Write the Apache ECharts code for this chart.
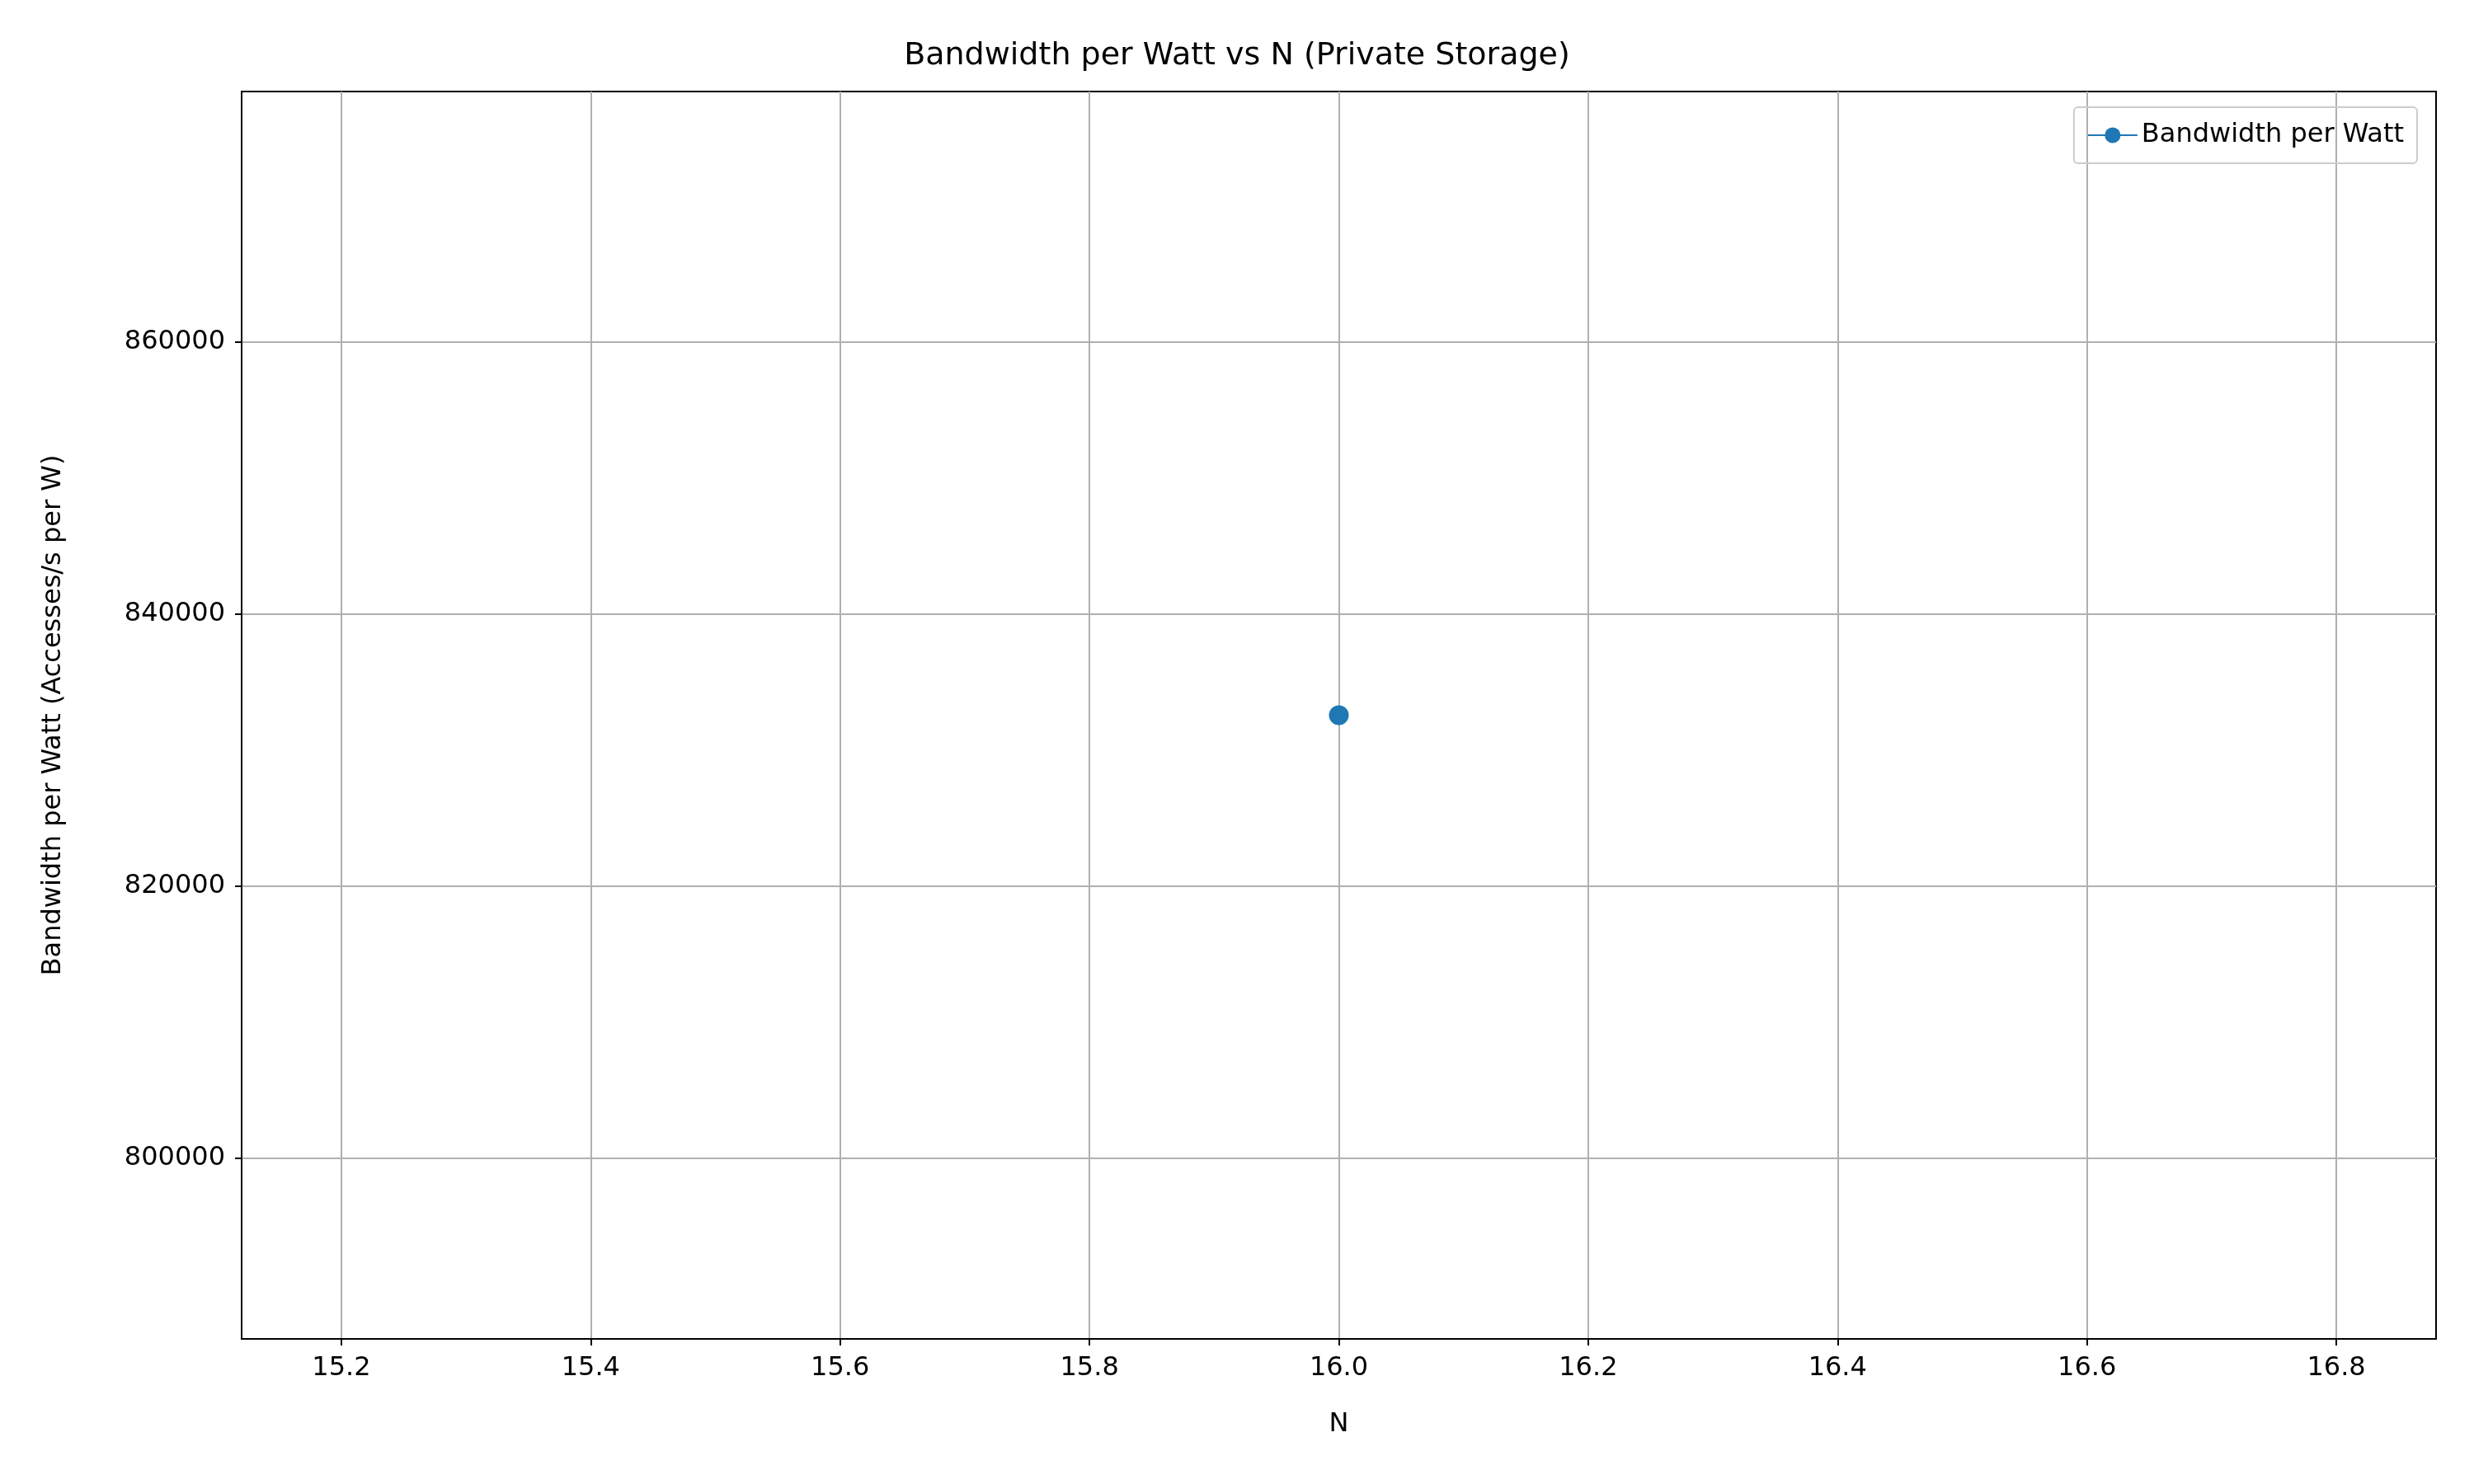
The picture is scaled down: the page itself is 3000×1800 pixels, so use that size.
<!DOCTYPE html>
<html lang="en">
<head>
  <meta charset="UTF-8" />
  <title>Bandwidth per Watt vs N (Private Storage)</title>
  <script src="https://cdn.jsdelivr.net/npm/echarts@6.0.0/dist/echarts.min.js"></script>
</head>
<body style="margin:0">
  <div id="main" style="width: 3000px; height: 1800px;"></div>
  <script>
    // data
    const nValues = [16];
    const bandwidthPerWatt = [832550];
    const xTicks = [15.2, 15.4, 15.6, 15.8, 16.0, 16.2, 16.4, 16.6, 16.8];
    const yTicks = [800000, 820000, 840000, 860000];

    const font = "DejaVu Sans";
    const chart = echarts.init(document.getElementById("main"));

    chart.setOption({
      animation: false,
      backgroundColor: "#fff",
      textStyle: { fontFamily: font },
      title: {
        text: "Bandwidth per Watt vs N (Private Storage)",
        left: "center",
        top: 44,
        textStyle: { fontFamily: font, fontSize: 38, fontWeight: "normal", color: "#000" },
      },
      legend: {
        right: 69,
        top: 130,
        padding: [18, 16],
        borderColor: "#ccc",
        borderWidth: 2,
        borderRadius: 5,
        itemWidth: 60,
        itemHeight: 24,
        textStyle: { fontFamily: font, fontSize: 32, color: "#000" },
        data: ["Bandwidth per Watt"],
      },
      grid: {
        left: 293, right: 46, top: 111, bottom: 176,
        show: true, borderColor: "#000", borderWidth: 2, backgroundColor: "transparent",
      },
      xAxis: {
        type: "value",
        min: 15.12,
        max: 16.88,
        name: "N",
        nameLocation: "middle",
        nameGap: 88,
        nameTextStyle: { fontFamily: font, fontSize: 32, color: "#000" },
        axisLine: { onZero: false, lineStyle: { color: "#000", width: 2 } },
        axisTick: { show: true, length: 8, lineStyle: { color: "#000", width: 2 }, customValues: xTicks },
        axisLabel: {
          fontSize: 32, color: "#000", margin: 20,
          customValues: xTicks,
          formatter: (v) => v.toFixed(1),
        },
        splitLine: { show: true, lineStyle: { color: "#b0b0b0", width: 2 } },
      },
      yAxis: {
        type: "value",
        min: 786700,
        max: 878400,
        name: "Bandwidth per Watt (Accesses/s per W)",
        nameLocation: "middle",
        nameGap: 212,
        nameTextStyle: { fontFamily: font, fontSize: 32, color: "#000" },
        axisLine: { show: true, onZero: false, lineStyle: { color: "#000", width: 2 } },
        axisTick: { show: true, length: 8, lineStyle: { color: "#000", width: 2 }, customValues: yTicks },
        axisLabel: {
          fontSize: 32, color: "#000", margin: 20, customValues: yTicks,
          formatter: (v) => String(v),
        },
        splitLine: { show: true, lineStyle: { color: "#b0b0b0", width: 2 } },
      },
      series: [
        {
          name: "Bandwidth per Watt",
          type: "line",
          data: nValues.map((n, i) => [n, bandwidthPerWatt[i]]),
          symbol: "circle",
          symbolSize: 24,
          itemStyle: { color: "#1f77b4" },
          lineStyle: { color: "#1f77b4", width: 3 },
        },
      ],
    });
  </script>
</body>
</html>
